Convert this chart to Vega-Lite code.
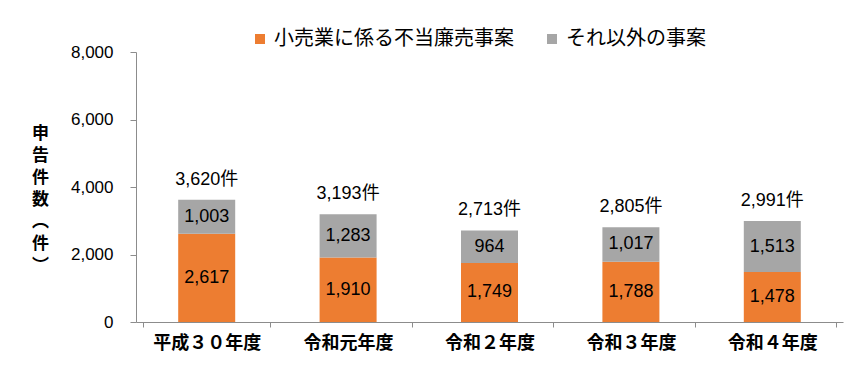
{
  "$schema": "https://vega.github.io/schema/vega-lite/v6.json",
  "width": 707,
  "height": 270,
  "autosize": {"type": "none"},
  "padding": {"left": 136, "top": 52, "right": 23, "bottom": 53},
  "background": "white",
  "config": {"view": {"stroke": null}, "font": "Liberation Sans"},
  "datasets": {
    "seg": [
      {"year": "平成３０年度", "series": "小売業に係る不当廉売事案", "seq": 1, "v": 2617},
      {"year": "平成３０年度", "series": "それ以外の事案", "seq": 2, "v": 1003},
      {"year": "令和元年度", "series": "小売業に係る不当廉売事案", "seq": 1, "v": 1910},
      {"year": "令和元年度", "series": "それ以外の事案", "seq": 2, "v": 1283},
      {"year": "令和２年度", "series": "小売業に係る不当廉売事案", "seq": 1, "v": 1749},
      {"year": "令和２年度", "series": "それ以外の事案", "seq": 2, "v": 964},
      {"year": "令和３年度", "series": "小売業に係る不当廉売事案", "seq": 1, "v": 1788},
      {"year": "令和３年度", "series": "それ以外の事案", "seq": 2, "v": 1017},
      {"year": "令和４年度", "series": "小売業に係る不当廉売事案", "seq": 1, "v": 1478},
      {"year": "令和４年度", "series": "それ以外の事案", "seq": 2, "v": 1513}
    ],
    "tot": [
      {"year": "平成３０年度", "total": 3620, "label": "3,620件"},
      {"year": "令和元年度", "total": 3193, "label": "3,193件"},
      {"year": "令和２年度", "total": 2713, "label": "2,713件"},
      {"year": "令和３年度", "total": 2805, "label": "2,805件"},
      {"year": "令和４年度", "total": 2991, "label": "2,991件"}
    ]
  },
  "layer": [
    {
      "data": {"name": "seg"},
      "mark": {"type": "bar", "size": 57},
      "encoding": {
        "x": {
          "field": "year", "type": "nominal",
          "sort": ["平成３０年度", "令和元年度", "令和２年度", "令和３年度", "令和４年度"],
          "axis": {
            "title": null, "labelAngle": 0, "tickBand": "extent",
            "domainColor": "#8c8c8c", "tickColor": "#8c8c8c", "tickSize": 5,
            "labelFont": "Noto Sans CJK JP", "labelFontSize": 18, "labelFontWeight": "bold",
            "labelColor": "#000", "labelPadding": 7
          }
        },
        "y": {
          "field": "v", "type": "quantitative", "stack": "zero",
          "scale": {"domain": [0, 8000]},
          "axis": {
            "values": [0, 2000, 4000, 6000, 8000], "format": ",.0f", "grid": false,
            "domainColor": "#8c8c8c", "tickColor": "#8c8c8c", "tickSize": 6,
            "labelFont": "Liberation Sans", "labelFontSize": 17, "labelColor": "#000", "labelPadding": 17,
            "title": ["申", "告", "件", "数", "︵", "件", "︶"],
            "titleAngle": 0, "titleX": -96, "titleY": 73, "titleAlign": "center", "titleBaseline": "top",
            "titleFont": "Noto Sans CJK JP", "titleFontSize": 17, "titleFontWeight": "bold",
            "titleColor": "#000", "titleLineHeight": 22
          }
        },
        "color": {
          "field": "series", "type": "nominal",
          "scale": {"domain": ["小売業に係る不当廉売事案", "それ以外の事案"], "range": ["#ED7D31", "#A6A6A6"]},
          "legend": {
            "title": null, "orient": "none", "legendX": 114, "legendY": -23, "direction": "horizontal",
            "symbolType": "square", "symbolSize": 100, "symbolStrokeWidth": 0,
            "labelFont": "Noto Sans CJK JP", "labelFontSize": 20, "labelColor": "#000", "labelLimit": 400,
            "labelOffset": 4, "columnPadding": 28
          }
        },
        "order": {"field": "seq", "type": "quantitative"}
      }
    },
    {
      "data": {"name": "seg"},
      "transform": [
        {"stack": "v", "groupby": ["year"], "sort": [{"field": "seq", "order": "ascending"}], "as": ["y0", "y1"]},
        {"fold": ["y0", "y1"], "as": ["k", "pos"]}
      ],
      "mark": {"type": "text", "fontSize": 18, "baseline": "middle", "color": "#000", "font": "Liberation Sans"},
      "encoding": {
        "x": {"field": "year", "type": "nominal", "sort": ["平成３０年度", "令和元年度", "令和２年度", "令和３年度", "令和４年度"]},
        "y": {"field": "pos", "type": "quantitative", "aggregate": "mean", "stack": null},
        "detail": {"field": "series", "type": "nominal"},
        "text": {"field": "v", "aggregate": "max", "format": ","}
      }
    },
    {
      "data": {"name": "tot"},
      "mark": {"type": "text", "fontSize": 18, "baseline": "bottom", "dy": -11, "color": "#000", "font": "Liberation Sans, Noto Sans CJK JP"},
      "encoding": {
        "x": {"field": "year", "type": "nominal", "sort": ["平成３０年度", "令和元年度", "令和２年度", "令和３年度", "令和４年度"]},
        "y": {"field": "total", "type": "quantitative"},
        "text": {"field": "label"}
      }
    }
  ]
}
